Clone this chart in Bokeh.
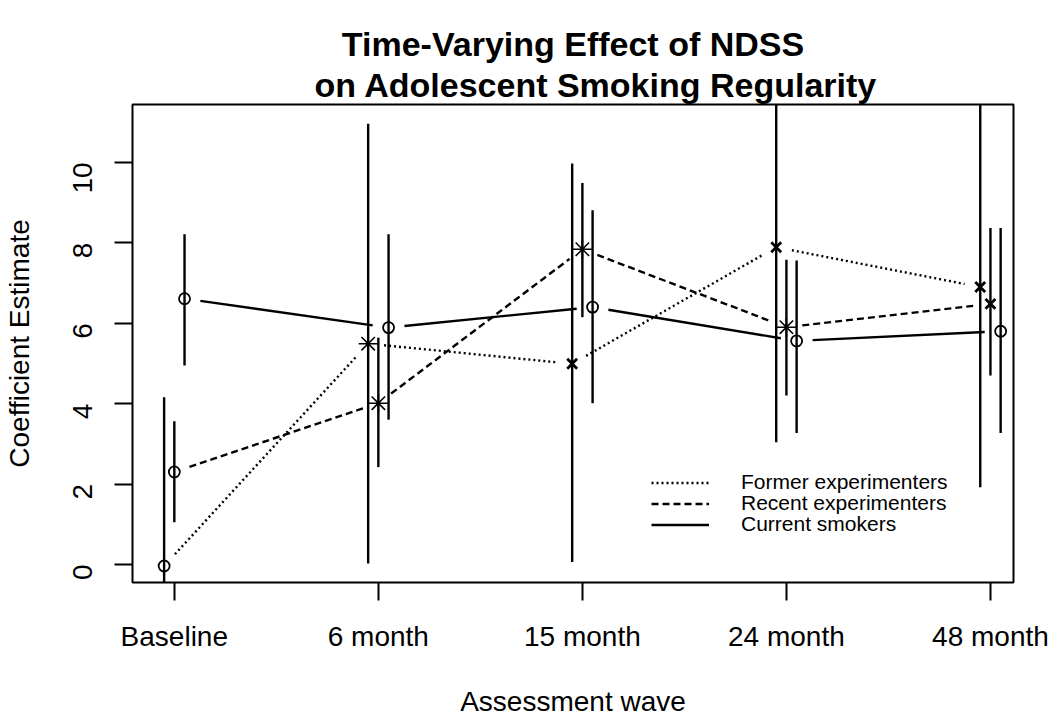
import math
from bokeh.plotting import figure
from bokeh.models import (FixedTicker, Range1d, Title, Legend, LegendItem,
                          ColumnDataSource)
from bokeh.embed import file_html
from bokeh.resources import INLINE

# ---------------- data ----------------
waves = ["Baseline", "6 month", "15 month", "24 month", "48 month"]
wave_pos = [1, 2, 3, 4, 5]
y_ticks = [0, 2, 4, 6, 8, 10]

series_names = ["Former experimenters", "Recent experimenters", "Current smokers"]
series_offset = [-0.05, 0.0, 0.05]

former_est = [-0.04, 5.49, 4.99, 7.89, 6.90]
former_lo = [-4.24, 0.02, 0.06, 3.04, 1.92]
former_hi = [4.16, 10.96, 9.97, 12.74, 11.88]
former_marker = ["circle", "asterisk", "x", "x", "x"]

recent_est = [2.30, 4.01, 7.84, 5.90, 6.48]
recent_lo = [1.05, 2.42, 6.15, 4.20, 4.70]
recent_hi = [3.56, 5.64, 9.49, 7.58, 8.37]
recent_marker = ["circle", "asterisk", "asterisk", "asterisk", "x"]

current_est = [6.61, 5.89, 6.40, 5.56, 5.80]
current_lo = [4.95, 3.60, 4.01, 3.27, 3.27]
current_hi = [8.21, 8.21, 8.81, 7.56, 8.37]
current_marker = ["circle", "circle", "circle", "circle", "circle"]

# ---------------- layout ----------------
W, H = 1050, 720
BL, BR, BT, BB = 131, 37, 104, 138
X0, X1 = 0.795, 5.113
Y0, Y1 = -0.45, 11.44
FW = W - BL - BR
FH = H - BT - BB
PX_X = FW / (X1 - X0)
PX_Y = FH / (Y1 - Y0)
GAP = 16  # px gap between line ends and points (R type="b")

FONT = "Liberation Sans"
BLACK = "#000000"

p = figure(width=W, height=H, output_backend="svg", toolbar_location=None,
           x_range=Range1d(X0, X1), y_range=Range1d(Y0, Y1),
           min_border_left=BL, min_border_right=BR,
           min_border_top=BT, min_border_bottom=BB,
           background_fill_color="white", border_fill_color="white")
p.grid.visible = False
p.outline_line_color = BLACK
p.outline_line_width = 2
p.outline_line_alpha = 1

for ax in (p.xaxis[0], p.yaxis[0]):
    ax.axis_line_color = None
    ax.major_tick_line_color = BLACK
    ax.major_tick_line_width = 2
    ax.major_tick_out = 18
    ax.major_tick_in = 0
    ax.minor_tick_line_color = None
    ax.major_label_text_font = FONT
    ax.major_label_text_font_size = "28px"
    ax.major_label_text_color = BLACK
    ax.axis_label_text_font = FONT
    ax.axis_label_text_font_size = "28px"
    ax.axis_label_text_font_style = "normal"
    ax.axis_label_text_color = BLACK

p.xaxis.ticker = FixedTicker(ticks=wave_pos)
p.xaxis.major_label_overrides = {pos: name for pos, name in zip(wave_pos, waves)}
p.xaxis.major_label_standoff = 20
p.xaxis.axis_label = "Assessment wave"
p.xaxis.axis_label_standoff = 31

p.yaxis.ticker = FixedTicker(ticks=y_ticks)
p.yaxis.major_label_orientation = math.pi / 2
p.yaxis.major_label_standoff = 32
p.yaxis.axis_label = "Coefficient Estimate"
p.yaxis.axis_label_standoff = 26


def gapped(xs, ys, gap=GAP):
    x0s, y0s, x1s, y1s = [], [], [], []
    for i in range(len(xs) - 1):
        dxu = xs[i + 1] - xs[i]
        dyu = ys[i + 1] - ys[i]
        d = math.hypot(dxu * PX_X, dyu * PX_Y)
        f = gap / d
        x0s.append(xs[i] + dxu * f)
        y0s.append(ys[i] + dyu * f)
        x1s.append(xs[i + 1] - dxu * f)
        y1s.append(ys[i + 1] - dyu * f)
    return dict(x0=x0s, y0=y0s, x1=x1s, y1=y1s)


all_series = [
    (former_est, former_lo, former_hi, former_marker, "2 3"),
    (recent_est, recent_lo, recent_hi, recent_marker, "7 4"),
    (current_est, current_lo, current_hi, current_marker, "solid"),
]

line_renderers = []
for (est, lo, hi, mk, dash), off in zip(all_series, series_offset):
    xs = [w + off for w in wave_pos]
    seg = p.segment(x0="x0", y0="y0", x1="x1", y1="y1",
                    source=ColumnDataSource(gapped(xs, est)),
                    line_color=BLACK, line_width=2.4, line_dash=dash)
    line_renderers.append(seg)
    p.segment(x0=xs, y0=lo, x1=xs, y1=hi, line_color=BLACK, line_width=2.4)
    src = ColumnDataSource(dict(x=xs, y=est, m=mk,
                                s=[11 if m == "circle" else (19 if m == "asterisk" else 14) for m in mk],
                                lw=[1.8 if m == "circle" else (1.6 if m == "asterisk" else 2.8) for m in mk]))
    p.scatter(x="x", y="y", marker="m", size="s", source=src,
              line_color=BLACK, line_width="lw", fill_color=None)

# one legend per row, so the rows sit as tightly as in the reference
legend_rows_y = [88, 67, 46]
for name, rend, ly in zip(series_names, line_renderers, legend_rows_y):
    lg = Legend(items=[LegendItem(label=name, renderers=[rend])], location=(519, ly),
                border_line_color=None, background_fill_alpha=0,
                label_text_font=FONT, label_text_font_size="21px",
                label_text_color=BLACK,
                glyph_width=58, glyph_height=17, label_height=17,
                label_standoff=32, spacing=0, padding=0, margin=0)
    p.add_layout(lg)

# two-line title; second line shifted right as in the reference
t2 = Title(text="on Adolescent Smoking Regularity", align="left", offset=182,
           text_font=FONT, text_font_size="34px", text_font_style="bold",
           text_color=BLACK, standoff=2)
t1 = Title(text="Time-Varying Effect of NDSS", align="center",
           text_font=FONT, text_font_size="34px", text_font_style="bold",
           text_color=BLACK, standoff=0)
p.add_layout(t2, "above")
p.add_layout(t1, "above")

open("out.html", "w").write(file_html(p, INLINE))
